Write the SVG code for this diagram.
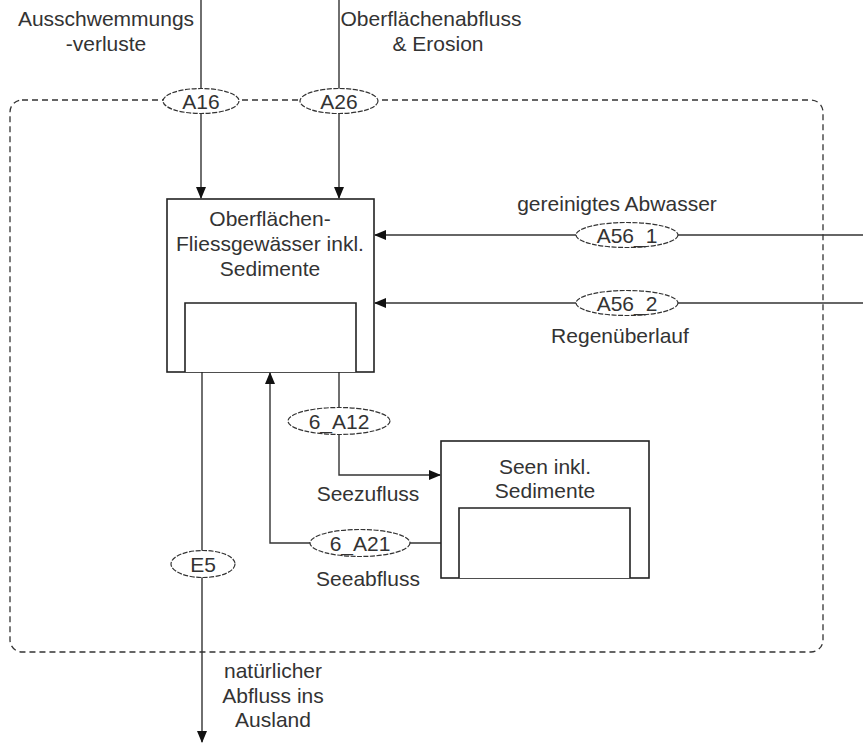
<svg xmlns="http://www.w3.org/2000/svg" width="863" height="744" viewBox="0 0 863 744">
  <style>
    text { font-family: "Liberation Sans", Arial, sans-serif; font-size: 21px; fill: #333; text-anchor: middle; }
    .box { fill: #fff; stroke: #222; stroke-width: 1.6; }
    .inner { fill: #fff; stroke: #222; stroke-width: 1.6; }
    .flow { fill: none; stroke: #333; stroke-width: 1.4; }
    .tag { fill: #fff; stroke: #333; stroke-width: 1.2; stroke-dasharray: 5 1.5; }
    .bound { fill: none; stroke: #333; stroke-width: 1.3; stroke-dasharray: 6 4; }
  </style>
  <defs>
    <marker id="arrow" markerWidth="12" markerHeight="10" refX="11" refY="5" orient="auto" markerUnits="userSpaceOnUse">
      <path d="M0,0 L12,5 L0,10 Z" fill="#111"/>
    </marker>
  </defs>

  <rect width="863" height="744" fill="#fff"/>

  <!-- system boundary -->
  <rect class="bound" x="10" y="100" width="813" height="552" rx="12" ry="12"/>

  <g id="connectors">
    <line class="flow" x1="201" y1="0" x2="201" y2="198" marker-end="url(#arrow)"/>
    <line class="flow" x1="339" y1="0" x2="339" y2="198" marker-end="url(#arrow)"/>
    <line class="flow" x1="863" y1="235" x2="375" y2="235" marker-end="url(#arrow)"/>
    <line class="flow" x1="863" y1="303" x2="375" y2="303" marker-end="url(#arrow)"/>
    <polyline class="flow" points="339,372 339,475 440,475" marker-end="url(#arrow)"/>
    <polyline class="flow" points="441,543 270,543 270,373" marker-end="url(#arrow)"/>
    <line class="flow" x1="202" y1="372" x2="202" y2="742" marker-end="url(#arrow)"/>
  </g>

  <g id="flow-tags">
    <g id="A16"><ellipse class="tag" cx="201" cy="101" rx="38" ry="12.5"/><text x="201" y="109">A16</text></g>
    <g id="A26"><ellipse class="tag" cx="339" cy="101" rx="39" ry="12.5"/><text x="339" y="109">A26</text></g>
    <g id="A56_1"><ellipse class="tag" cx="627" cy="235" rx="51" ry="12.5"/><text x="627" y="243">A56_1</text></g>
    <g id="A56_2"><ellipse class="tag" cx="627" cy="303" rx="51" ry="12.5"/><text x="627" y="311">A56_2</text></g>
    <g id="6_A12"><ellipse class="tag" cx="339" cy="421" rx="51" ry="13.5"/><text x="339" y="429">6_A12</text></g>
    <g id="6_A21"><ellipse class="tag" cx="360" cy="543" rx="50" ry="13.5"/><text x="360" y="551">6_A21</text></g>
    <g id="E5"><ellipse class="tag" cx="203" cy="564" rx="32" ry="13.5"/><text x="203" y="572">E5</text></g>
  </g>

  <g id="labels">
    <text x="106" y="26">Ausschwemmungs</text>
    <text x="106" y="51">-verluste</text>
    <text x="431" y="26">Oberflächenabfluss</text>
    <text x="438" y="51">&amp; Erosion</text>
    <text x="617" y="211">gereinigtes Abwasser</text>
    <text x="620" y="343">Regenüberlauf</text>
    <text x="368" y="501">Seezufluss</text>
    <text x="368" y="586">Seeabfluss</text>
    <text x="273" y="678">natürlicher</text>
    <text x="273" y="703">Abfluss ins</text>
    <text x="273" y="727">Ausland</text>
  </g>

  <g id="fliessgewaesser">
    <rect class="box" x="167" y="199" width="207" height="173"/>
    <polyline class="inner" points="185,372 185,303 356,303 356,372"/>
    <text x="270" y="226">Oberflächen-</text>
    <text x="270" y="251">Fliessgewässer inkl.</text>
    <text x="270" y="276">Sedimente</text>
  </g>

  <g id="seen">
    <rect class="box" x="441" y="441" width="208" height="137"/>
    <polyline class="inner" points="459,578 459,508 630,508 630,578"/>
    <text x="545" y="474">Seen inkl.</text>
    <text x="545" y="498">Sedimente</text>
  </g>
</svg>
